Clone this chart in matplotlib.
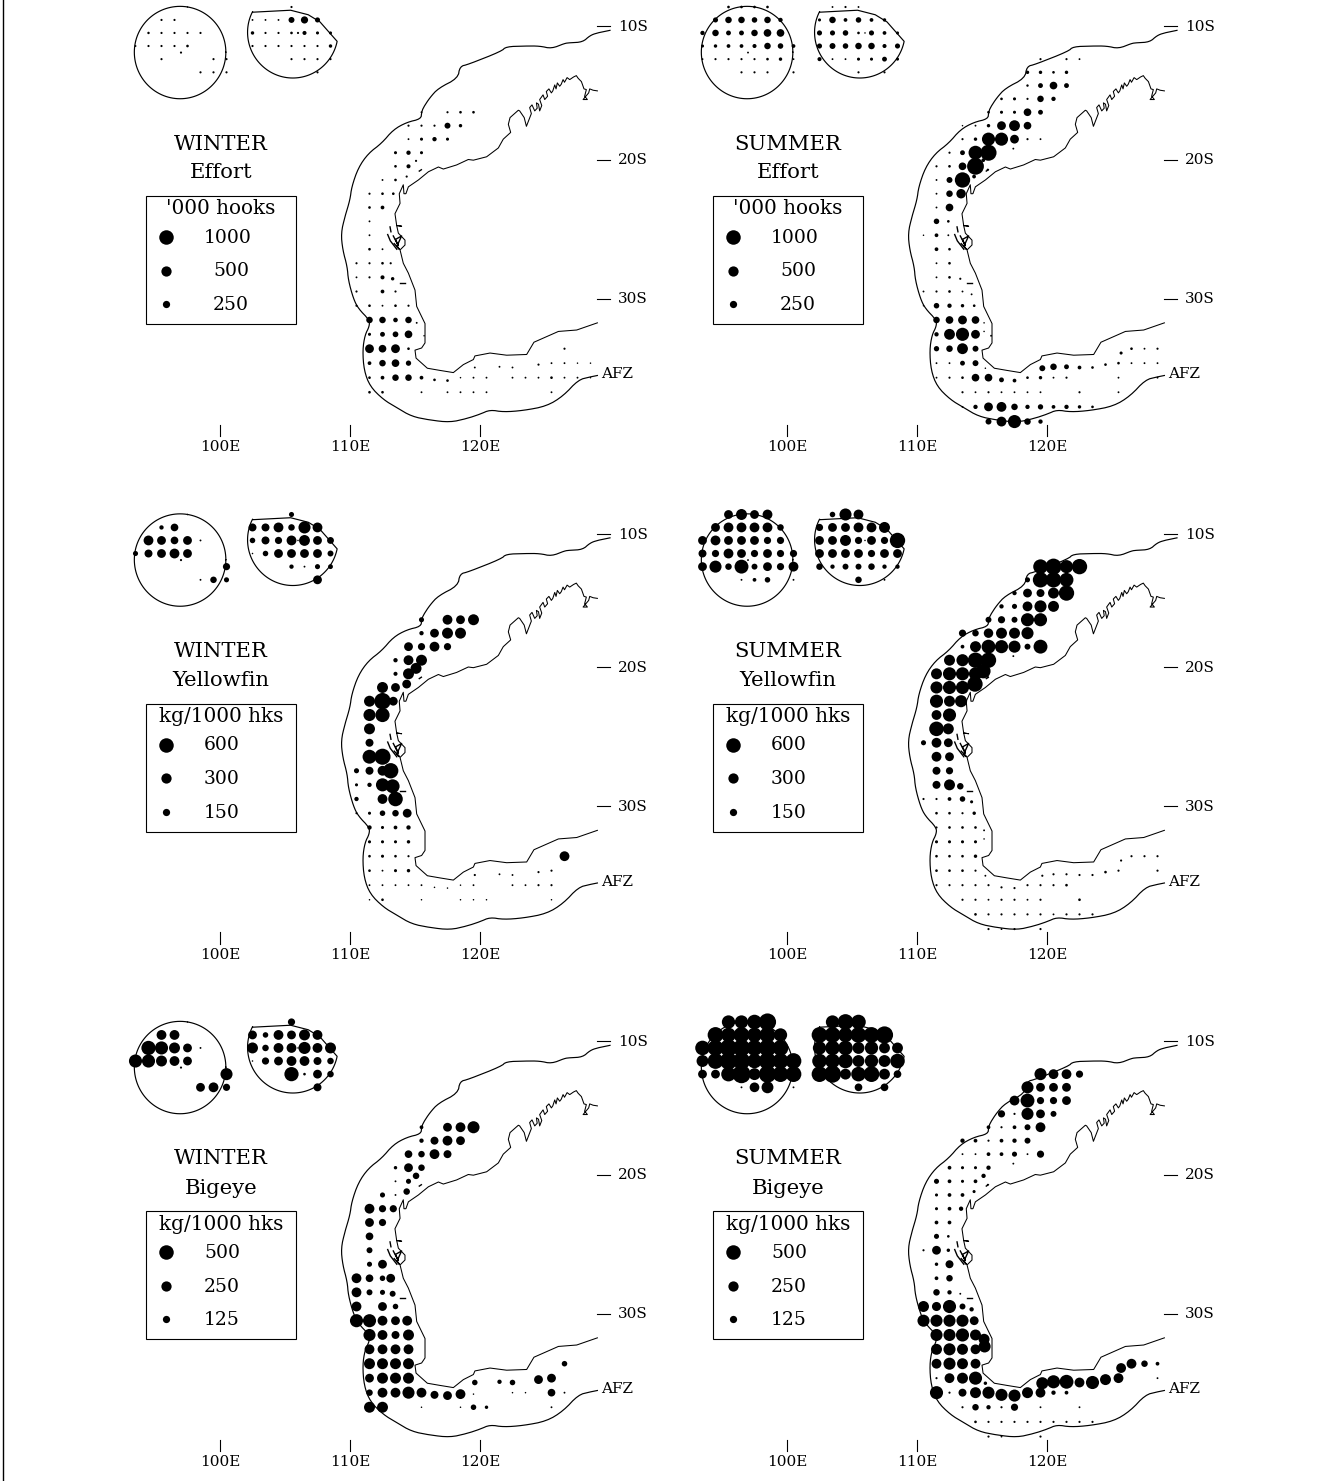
import numpy as np
import matplotlib
matplotlib.use("Agg")
import matplotlib.pyplot as plt
from matplotlib.patches import Rectangle

plt.rcParams['font.family'] = 'DejaVu Serif'

# rows: (lat S, first lon E, [cell values, % of top legend key, 0 = no cell])
winter_effort = [
    (8.5, 97.5, [1]), (9.5, 95.5, [2, 2]), (10.5, 94.5, [2.5, 2, 2, 2, 2]),
    (11.5, 93.5, [1.5, 2, 2, 2, 3]), (12.0, 97.0, [2]), (12.5, 95.5, [2]),
    (12.5, 99.5, [2, 2]), (13.5, 98.5, [2, 2, 2]),
    (8.5, 105.5, [2]), (9.5, 102.5, [1.5, 1.5, 1.5, 15, 22, 11]),
    (10.5, 102.5, [5, 2, 2, 3]), (10.5, 106.0, [2]), (10.5, 106.5, [7, 4, 4]),
    (11.5, 102.5, [2, 2, 2, 2, 2, 2, 5]), (12.5, 105.5, [2, 2, 2, 2]), (13.5, 107.5, [2]),
    (16.5, 115.5, [1.5, 0, 2, 3, 3]), (17.5, 114.5, [2, 2, 2, 15, 5]),
    (18.5, 114.5, [1.5, 4, 8, 4]), (19.5, 113.5, [4, 8, 4]), (20.5, 113.5, [3, 7]),
    (20.1, 115.08, [2]), (21.5, 112.5, [1.5, 3]), (21.25, 114.36, [2]),
    (22.5, 111.5, [2, 3]), (22.5, 113.33, [3]), (23.5, 111.5, [3, 6]),
    (24.5, 111.5, [1.5]), (25.5, 111.5, [1.5]), (26.5, 111.5, [3, 1.5]),
    (27.5, 110.5, [2, 2, 3]), (27.5, 113.13, [2]), (28.5, 110.5, [1.5, 2, 7]),
    (28.6, 113.28, [5]), (29.5, 110.5, [2, 0, 6, 2]),
    (30.5, 110.5, [2, 3, 1.5, 3, 2]), (31.5, 111.5, [18, 18, 9, 18]), (31.7, 115.13, [1.5]),
    (32.5, 111.5, [4, 10, 14, 25]), (32.6, 115.7, [1]), (33.5, 111.5, [33, 25, 33, 3]),
    (33.5, 126.5, [2]), (34.5, 111.5, [6, 18, 25, 12]), (34.8, 119.6, [1.5]),
    (34.75, 121.5, [1.5]), (34.8, 122.5, [1.5]), (34.6, 124.5, [2]),
    (34.5, 125.5, [1.5, 1.5, 1, 1]),
    (35.5, 111.5, [3, 6, 18, 18, 6]), (35.65, 116.5, [3]), (35.7, 117.5, [3]),
    (35.5, 118.5, [1, 1.5, 1.5, 0, 1.5, 1.5, 1.5, 3, 1.5, 1.5, 1]),
    (36.5, 111.5, [3, 3, 0, 0, 1.5, 0, 1.5, 1.5, 1.5, 1.5]), (36.5, 125.5, [1.5]),
]

summer_effort = [
    (8.5, 95.5, [3, 3, 3, 3]), (9.5, 94.5, [11, 18, 18, 13, 18, 8]),
    (10.5, 93.5, [8, 18, 10, 10, 18, 25, 25]), (11.5, 93.5, [4, 5, 6, 6, 7, 18, 13, 6]),
    (12.0, 97.0, [1.5]), (12.5, 93.5, [1.5, 2, 2, 2, 2, 3, 5, 1.5]),
    (13.5, 96.5, [2, 2, 2, 0, 2]),
    (8.5, 103.5, [1.5, 2, 1.5]), (9.5, 102.5, [4, 18, 6, 13, 6, 5]),
    (10.5, 102.5, [11, 11, 13, 3]), (10.5, 106.0, [1]), (10.5, 106.5, [11, 6, 4]),
    (11.5, 102.5, [11, 15, 13, 18, 18, 7, 11]), (12.5, 102.5, [7, 1.5, 1.5, 4, 4, 10, 4]),
    (13.5, 105.5, [2, 0, 2]),
    (12.5, 119.5, [2, 0, 2, 1.5]), (13.5, 118.5, [5, 5, 3, 5]),
    (14.5, 118.5, [2.5, 10, 25, 10]), (15.5, 116.5, [3, 4, 2, 18, 8]),
    (16.5, 115.5, [3, 4, 4, 25, 10]), (17.5, 113.5, [1, 1.5, 5, 33, 50, 25]),
    (18.5, 113.5, [2, 5, 73, 73, 33, 2, 1.5]), (19.2, 117.41, [1.5]),
    (19.5, 112.5, [2, 10, 82, 110]), (20.05, 115.1, [6]), (20.5, 111.5, [2, 3, 25, 120]),
    (20.75, 115.44, [2]), (21.5, 111.5, [1.5, 15, 100]), (21.25, 114.39, [6]),
    (22.5, 111.5, [1.5, 18]), (22.5, 113.39, [38]), (23.5, 111.5, [1.5, 25]),
    (24.5, 111.5, [13]), (24.5, 112.41, [3]), (25.5, 110.5, [1, 6]), (25.5, 112.41, [1.5]),
    (26.5, 111.5, [6, 3]), (27.5, 111.5, [1.5, 3]), (28.5, 111.5, [1.5, 3]),
    (28.6, 113.33, [2]), (29.5, 110.5, [1.5, 2, 3, 1.5]), (29.7, 114.2, [1.5]),
    (30.5, 110.5, [1, 13, 8, 5]), (30.5, 114.4, [3]), (31.5, 111.5, [18, 25, 33, 25]),
    (31.7, 115.16, [1]), (32.5, 111.5, [8, 50, 73, 33]), (32.3, 115.16, [1]),
    (32.6, 115.7, [1.5]), (33.5, 111.5, [12, 18, 50, 15]), (33.8, 125.7, [4]),
    (33.5, 126.5, [3, 1.5, 2]), (34.5, 111.5, [1.5, 1.5, 10, 15]), (34.85, 115.26, [1]),
    (34.85, 119.64, [15]), (34.75, 120.5, [18, 10]), (34.8, 122.5, [6, 3]), (34.6, 124.5, [3]),
    (34.5, 125.5, [3, 1.5, 1.5, 1.5]),
    (35.5, 111.5, [1.5, 2, 3, 25, 25]), (35.65, 116.5, [10]), (35.7, 117.5, [6]),
    (35.5, 118.5, [3, 5, 1.5, 2]), (35.5, 125.5, [1.5, 0, 0, 1.5]),
    (36.5, 113.5, [2, 1.5, 2, 1.5, 1.5, 1.5, 1.5, 0, 0, 2, 0, 0, 1.5]),
    (37.5, 113.5, [1.5, 8, 33, 41, 18, 8, 12, 6, 8, 5, 3]),
    (38.5, 115.5, [15, 41, 73, 18, 8]),
]

winter_yellowfin = [
    (8.5, 97.5, [1]), (9.5, 95.5, [8, 25]), (10.5, 94.5, [41, 33, 25, 33, 1.5]),
    (11.5, 93.5, [11, 27, 33, 41, 33]), (12.0, 97.0, [2]), (12.5, 100.5, [22]),
    (13.5, 98.5, [1.5, 18, 11]),
    (8.5, 105.5, [11]), (9.5, 102.5, [27, 27, 41, 18, 62, 41]),
    (10.5, 102.5, [13, 27, 22, 41]), (10.5, 106.0, [1]), (10.5, 106.5, [50, 33, 20]),
    (11.5, 102.5, [1, 13, 33, 33, 33, 33, 15]), (12.5, 105.5, [8, 1.5, 11, 10]), (13.5, 107.5, [33]),
    (16.5, 115.5, [11, 0, 41, 33, 51]), (17.5, 115.5, [8, 33, 51, 51]),
    (18.5, 114.5, [33, 22, 41, 22]), (19.5, 113.5, [8, 41, 51]), (20.5, 113.5, [7, 51]),
    (20.1, 115.08, [51]), (21.5, 112.5, [51, 33]), (21.25, 114.36, [33]),
    (22.5, 111.5, [51, 115]), (22.5, 113.33, [33]), (23.5, 111.5, [62, 86]),
    (24.5, 111.5, [51]), (25.5, 111.5, [27]), (26.5, 111.5, [82, 110]),
    (27.5, 110.5, [11, 27, 41]), (27.5, 113.13, [100]), (28.5, 110.5, [4, 8, 73]),
    (28.6, 113.28, [82]), (29.5, 110.5, [8, 0, 41, 90]), (30.5, 110.5, [2, 4, 13, 18]),
    (30.5, 114.4, [33]), (31.5, 111.5, [8, 4, 6, 8]), (32.5, 111.5, [4, 4, 4, 5]),
    (33.5, 111.5, [3, 4, 3, 2]), (33.5, 126.5, [41]), (34.5, 111.5, [3, 1.5, 4, 5]),
    (34.8, 119.6, [2]), (34.75, 121.5, [1.5]), (34.8, 122.5, [1.5]), (34.6, 124.5, [2]),
    (34.5, 125.5, [2]),
    (35.5, 111.5, [1.5, 1.5, 1.5, 1.5, 1.5]), (35.65, 116.5, [1]), (35.7, 117.5, [1]),
    (35.5, 118.5, [1, 1.5, 0, 0, 1.5, 1.5, 2, 2]),
    (36.5, 111.5, [1, 3, 0, 0, 1, 0, 0, 1, 1, 1]), (36.5, 125.5, [1]),
]

summer_yellowfin = [
    (8.5, 95.5, [33, 51, 33, 41]), (9.5, 94.5, [33, 41, 41, 41, 41, 18]),
    (10.5, 93.5, [33, 41, 33, 33, 33, 22, 22]), (11.5, 93.5, [27, 22, 41, 33, 22, 33, 22, 22]),
    (12.0, 97.0, [1.5]), (12.5, 93.5, [33, 62, 18, 82, 15, 33, 22, 41]),
    (13.5, 96.5, [1.5, 6, 13, 0, 1.5]),
    (8.5, 103.5, [13, 62, 41]), (9.5, 102.5, [22, 33, 33, 41, 41, 51]),
    (10.5, 102.5, [33, 33, 51, 22]), (10.5, 106.0, [1]), (10.5, 106.5, [33, 22, 100]),
    (11.5, 102.5, [33, 33, 33, 33, 22, 33, 33]), (12.5, 102.5, [18, 8, 15, 15, 18, 8, 8]),
    (13.5, 105.5, [18, 0, 1.5]),
    (12.5, 119.5, [90, 110, 73, 100]), (13.5, 118.5, [11, 100, 100, 82]),
    (14.5, 117.5, [8, 33, 27, 51, 100]), (15.5, 116.5, [8, 11, 41, 62, 51]),
    (16.5, 115.5, [15, 22, 15, 73, 73]), (17.5, 113.5, [22, 18, 38, 51, 51, 62]),
    (18.5, 113.5, [6, 51, 82, 73, 62, 15, 82]), (19.2, 117.41, [1.5]),
    (19.5, 112.5, [51, 62, 100, 100]), (20.5, 111.5, [51, 73, 73, 73]), (20.3, 115.1, [90]),
    (20.75, 115.44, [2]), (21.5, 111.5, [62, 73, 73]), (21.25, 114.46, [100]),
    (22.5, 111.5, [73, 51]), (22.5, 113.39, [62]), (23.5, 111.5, [41, 73]),
    (24.5, 111.5, [90]), (24.5, 112.41, [51]), (25.5, 110.5, [11, 41]), (25.5, 112.41, [33]),
    (26.5, 111.5, [41, 33]), (27.5, 111.5, [27, 22]), (28.5, 111.5, [27, 51]),
    (28.6, 113.33, [18]), (29.5, 110.5, [2, 2, 6, 13]), (29.7, 114.2, [4]),
    (30.5, 111.5, [3, 3, 2]), (30.5, 114.4, [5]), (31.5, 111.5, [2, 3, 3, 3]),
    (31.7, 115.16, [1.5]), (32.5, 111.5, [4, 4, 4, 4]), (32.3, 115.16, [1]),
    (33.5, 111.5, [3, 3, 3, 5]), (33.8, 125.7, [2]), (33.5, 126.5, [2, 2, 2]),
    (34.5, 111.5, [3, 3, 3, 2]), (34.85, 115.26, [1.5]), (34.85, 119.64, [2]),
    (34.75, 120.5, [2, 2]), (34.8, 122.5, [2, 2]), (34.6, 124.5, [3]),
    (34.5, 125.5, [2, 0, 0, 2]),
    (35.5, 111.5, [2, 2, 2, 2, 2]), (35.65, 116.5, [2]), (35.7, 117.5, [2]),
    (35.5, 118.5, [2, 2, 2, 3]), (36.5, 113.5, [2, 2, 1.5, 2, 2, 1.5, 2, 0, 0, 3]),
    (37.5, 114.5, [3, 2, 2, 2, 2, 2, 1.5, 2, 2, 2]), (38.5, 115.5, [2, 1.5, 2, 0, 2]),
]

winter_bigeye = [
    (8.5, 97.5, [1]), (9.5, 95.5, [41, 41]), (10.5, 94.5, [86, 73, 51, 33, 1.5]),
    (11.5, 93.5, [73, 73, 51, 41, 33]), (12.0, 97.0, [2]), (12.5, 100.5, [62]),
    (13.5, 98.5, [33, 41, 22]),
    (8.5, 105.5, [22]), (9.5, 102.5, [33, 13, 41, 33, 51, 41]),
    (10.5, 102.5, [51, 18, 41, 41]), (10.5, 106.0, [1]), (10.5, 106.5, [62, 41, 51]),
    (11.5, 102.5, [1, 22, 33, 41, 41, 27, 18]), (12.5, 105.5, [86, 3, 33, 18]), (13.5, 107.5, [27]),
    (16.5, 115.5, [6, 0, 33, 41, 62]), (17.5, 115.5, [8, 27, 41, 33]),
    (18.5, 114.5, [25, 18, 41, 27]), (19.5, 113.5, [5, 33, 18]), (20.5, 113.5, [1.5, 11]),
    (20.1, 115.08, [18]), (21.5, 112.5, [11, 1.5]), (21.25, 114.36, [18]),
    (22.5, 111.5, [41, 22]), (22.5, 113.33, [22]), (23.5, 111.5, [33, 22]),
    (24.5, 111.5, [25]), (25.5, 111.5, [15]), (26.5, 111.5, [11, 33]),
    (27.5, 110.5, [41, 25, 13]), (27.5, 113.13, [33]), (28.5, 110.5, [41, 15, 11]),
    (28.6, 113.28, [15]), (29.5, 110.5, [41, 0, 33, 13]), (30.5, 110.5, [73, 73, 41, 33]),
    (30.5, 114.4, [41]), (31.5, 111.5, [62, 41, 27, 51]), (32.5, 111.5, [41, 41, 41, 41]),
    (33.5, 111.5, [51, 51, 51, 51]), (33.5, 126.5, [13]), (34.5, 111.5, [33, 51, 51, 51]),
    (34.8, 119.6, [13]), (34.75, 121.5, [8]), (34.8, 122.5, [13]), (34.6, 124.5, [33]),
    (34.5, 125.5, [33]),
    (35.5, 111.5, [18, 41, 41, 62, 41]), (35.65, 116.5, [27]), (35.7, 117.5, [33]),
    (35.6, 118.5, [41, 1]), (35.5, 122.5, [1, 1, 0, 25, 1.5]),
    (36.5, 111.5, [51, 51, 0, 0, 1, 0, 0, 1, 13, 5]), (36.5, 125.5, [1.5]),
]

summer_bigeye = [
    (8.5, 95.5, [75, 75, 90, 125]), (9.5, 94.5, [105, 90, 105, 90, 105, 75]),
    (10.5, 93.5, [90, 105, 125, 125, 105, 125, 105]), (11.5, 93.5, [60, 105, 125, 125, 90, 125, 105, 105]),
    (12.5, 93.5, [33, 33, 90, 140, 60, 125, 105, 105]), (13.5, 96.5, [1.5, 40, 60, 0, 1.5]),
    (8.5, 103.5, [75, 105, 90]), (9.5, 102.5, [105, 105, 90, 105, 105, 125]),
    (10.5, 102.5, [75, 90, 90, 60, 75, 50, 50]), (11.5, 102.5, [90, 90, 90, 60, 75, 60, 90]),
    (12.5, 102.5, [105, 125, 50, 90, 105, 50, 25]), (13.5, 105.5, [25, 0, 25]),
    (12.5, 119.5, [62, 41, 41, 22]), (13.5, 118.5, [62, 33, 33, 33]),
    (14.5, 117.5, [41, 82, 22, 22, 33]), (15.5, 116.5, [22, 2, 62, 33, 15]),
    (16.5, 115.5, [6, 2, 6, 15, 41]), (17.5, 113.5, [8, 6, 2, 6, 8, 15]),
    (18.5, 113.5, [1.5, 1.5, 6, 6, 11, 1.5, 22]), (19.2, 117.41, [1.5]),
    (19.5, 112.5, [6, 4, 4, 8]), (20.5, 111.5, [11, 6, 4, 6]), (20.1, 115.12, [8]),
    (20.75, 115.44, [1.5]), (21.5, 111.5, [4, 6, 6]), (21.25, 114.39, [4]),
    (22.5, 111.5, [4, 6]), (22.5, 113.39, [8]), (23.5, 111.5, [6, 6]),
    (24.5, 111.5, [11]), (24.5, 112.41, [3]), (25.5, 110.5, [2, 33]), (25.5, 112.41, [5]),
    (26.5, 111.5, [5, 27]), (27.5, 111.5, [6, 18]), (28.5, 111.5, [18, 8]),
    (28.6, 113.33, [1.5]), (29.5, 110.5, [51, 35, 73, 15]), (29.7, 114.2, [8]),
    (30.5, 110.5, [62, 62, 62, 62]), (30.5, 114.4, [33]), (31.5, 111.5, [62, 62, 73, 51]),
    (31.8, 115.16, [51]), (32.5, 111.5, [51, 62, 51, 41]), (32.3, 115.2, [62]),
    (33.5, 111.5, [41, 62, 51, 41]), (33.8, 125.7, [41]), (33.5, 126.5, [41, 18, 6]),
    (34.5, 111.5, [2, 41, 51, 73]), (34.85, 115.26, [5]), (34.85, 119.64, [62]),
    (34.75, 120.5, [73, 82]), (34.8, 122.5, [41, 73]), (34.6, 124.5, [51]),
    (34.5, 125.5, [41, 0, 0, 1.5]),
    (35.5, 111.5, [73, 2, 27, 51, 62]), (35.65, 116.5, [62]), (35.7, 117.5, [62]),
    (35.5, 118.5, [51, 41, 8, 6]), (36.5, 113.5, [2, 18, 8, 2, 22, 0, 1.5, 0, 0, 1.5]),
    (37.5, 114.5, [3, 2, 2, 2, 2, 2, 2, 2, 2, 2]), (38.5, 115.5, [2, 1.5, 0, 0, 2]),
]

# AFZ outer boundary, north-east end round to the south-east end
afz_lon = [130.0, 129.0, 128.46, 127.9, 126.9, 126.5, 125.5, 124.6, 123.45, 122.0, 121.65,
           119.1, 118.45, 118.3, 116.8, 116.15, 115.64, 115.51, 115.46, 114.36, 113.33,
           112.44, 111.41, 110.64, 110.13, 110.0, 109.61, 109.31, 109.44, 109.79, 109.87,
           110.26, 110.64, 111.49, 111.49, 111.15, 110.97, 111.08, 111.54, 112.56, 113.59,
           114.74, 116.15, 117.69, 118.97, 120.0, 120.77, 121.8, 123.33, 125.13, 126.41,
           127.56, 128.46, 129.03]
afz_lat = [10.3, 10.5, 10.7, 11.2, 11.25, 11.3, 11.7, 11.5, 11.5, 11.55, 11.9,
           12.9, 13.05, 13.95, 14.7, 15.4, 16.15, 16.5, 17.0, 17.25, 17.8,
           18.8, 19.55, 20.6, 22.0, 22.95, 24.15, 25.35, 26.55, 27.75, 28.7,
           30.0, 30.7, 31.5, 31.95, 32.55, 33.6, 35.0, 36.1, 37.0, 37.55,
           38.15, 38.4, 38.55, 38.3, 38.0, 37.7, 37.85, 37.75, 37.45, 36.75,
           35.65, 35.45, 35.35]

coast_lon = [129.03, 128.7, 128.44, 128.36, 128.1, 127.93, 128.26, 128.05, 128.18, 128.0,
             127.8, 127.55, 127.41, 127.2, 126.9, 126.7, 126.5, 126.39, 126.25, 126.13,
             125.95, 125.85, 125.75, 125.6, 125.49, 125.3, 125.1, 125.2, 124.98, 124.85,
             124.59, 124.75, 124.59, 124.5, 124.34, 124.4, 124.21, 124.0, 123.82, 123.95,
             123.57, 123.4, 123.05, 122.95, 122.31, 122.18, 122.36, 121.79, 121.41, 120.51,
             119.49, 119.1, 118.2, 117.18, 116.8, 116.03, 115.26, 114.49, 114.3, 114.15,
             114.1, 113.79, 113.85, 113.46, 113.59, 113.97, 113.59, 113.72, 114.23, 114.23,
             113.85, 114.1, 114.49, 115.0, 115.13, 115.77, 115.77, 115.51, 115.0, 115.08,
             115.95, 116.92, 117.95, 118.72, 119.49, 119.61, 120.77, 122.05, 123.59, 124.15,
             126.03, 127.44, 129.03]
coast_lat = [14.9, 14.85, 14.75, 15.05, 15.35, 15.55, 15.55, 15.3, 14.8, 14.75,
             14.2, 13.95, 13.75, 13.85, 14.05, 13.9, 14.25, 14.05, 14.4, 14.55,
             14.3, 14.75, 14.45, 14.9, 15.05, 14.75, 14.95, 15.3, 15.55, 15.2,
             15.55, 16.0, 16.4, 15.9, 15.8, 16.2, 16.4, 15.95, 16.15, 16.6,
             17.55, 16.9, 16.4, 16.35, 16.9, 17.4, 18.0, 18.5, 19.15, 19.8,
             20.05, 20.0, 20.4, 20.7, 20.55, 20.9, 21.5, 22.0, 22.5, 22.5,
             21.85, 22.5, 23.2, 23.95, 24.8, 24.85, 24.8, 25.35, 25.85, 26.2,
             26.55, 27.5, 28.2, 29.4, 30.55, 31.75, 33.1, 33.45, 33.6, 34.15,
             34.85, 35.0, 35.15, 34.6, 34.25, 34.0, 33.8, 33.95, 33.9, 33.05,
             32.3, 32.2, 31.7]
# islands and short coastal bits
island_lons = [[113.08, 113.15], [112.9, 113.1, 113.6],
               [113.33, 113.72, 113.5, 113.97, 113.6, 113.8, 113.4],
               [113.85, 114.23], [115.33, 115.49]]
island_lats = [[24.9, 25.25], [25.45, 25.9, 26.5],
               [25.55, 26.25, 25.8, 25.55, 26.3, 26.5, 26.1],
               [28.9, 28.9], [20.85, 20.75]]

# Cocos and Christmas Island zones: centre lon, centre lat, radius in degrees
cocos_zone = (96.93, 11.97, 3.52)
christmas_zone = (105.6, 10.45, 3.48)
christmas_north_lon = [102.56, 105.43, 106.79, 107.69]
christmas_north_lat = [8.9, 8.75, 9.1, 9.65]

lat_ticks = [10, 20, 30]
lat_labels = ['10S', '20S', '30S']
lon_ticks = [100, 110, 120]
lon_labels = ['100E', '110E', '120E']

seasons = ['WINTER', 'SUMMER']
species = ['Effort', 'Yellowfin', 'Bigeye']
units = ["'000 hooks", 'kg/1000 hks', 'kg/1000 hks']
key_labels = [['1000', '500', '250'], ['600', '300', '150'], ['500', '250', '125']]
key_sizes = [100, 50, 25]
panel_rows = [[winter_effort, summer_effort],
              [winter_yellowfin, summer_yellowfin],
              [winter_bigeye, summer_bigeye]]

W, H = 1339, 1481
COL_DX = 567
ROW_DY = 507.5
DOT_TOP = 14.5  # px across for the top legend key
TICK_FS = 11


def lat_to_sheet(lat):
    t = np.asarray(lat, dtype=float) - 8.5
    return 7 + 12.914 * t + 0.03017 * t ** 2


def sheet_to_lat(y):
    y = np.asarray(y, dtype=float)
    root = np.sqrt(np.maximum(12.914 ** 2 + 4 * 0.03017 * (y - 7), 0))
    return 8.5 + (root - 12.914) / (2 * 0.03017)


def dot_area(p):
    d_px = DOT_TOP * np.sqrt(np.asarray(p, dtype=float) / 100)
    return (d_px * 72 / 100) ** 2


def rounded(xs, ys, passes=2):
    # corner cutting, the boundary is a smooth curve in the original
    pts = np.column_stack([xs, ys])
    for _ in range(passes):
        a = 0.75 * pts[:-1] + 0.25 * pts[1:]
        b = 0.25 * pts[:-1] + 0.75 * pts[1:]
        mid = np.empty((a.shape[0] * 2, 2))
        mid[0::2] = a
        mid[1::2] = b
        pts = np.vstack([pts[:1], mid, pts[-1:]])
    return pts[:, 0], pts[:, 1]


def draw_map(ax, rows):
    ax.plot(*rounded(afz_lon, afz_lat), color='k', lw=0.85, clip_on=False)
    ax.plot(coast_lon, coast_lat, color='k', lw=0.75, clip_on=False)
    for lo, la in zip(island_lons, island_lats):
        ax.plot(lo, la, color='k', lw=1.0, clip_on=False)

    ang = np.radians(np.linspace(0, 360, 121))
    ax.plot(cocos_zone[0] + cocos_zone[2] * np.cos(ang),
            cocos_zone[1] + cocos_zone[2] * np.sin(ang), color='k', lw=0.85, clip_on=False)
    ang = np.radians(np.linspace(11.5, 207, 80))
    lo = christmas_zone[0] + christmas_zone[2] * np.cos(ang)
    la = christmas_zone[1] + christmas_zone[2] * np.sin(ang)
    ax.plot(np.r_[christmas_north_lon, lo], np.r_[christmas_north_lat, la],
            color='k', lw=0.85, clip_on=False)

    lons, lats, vals = [], [], []
    for lat, lon0, values in rows:
        for i, v in enumerate(values):
            if v > 0:
                lons.append(lon0 + i)
                lats.append(lat)
                vals.append(v)
    ax.scatter(lons, lats, s=dot_area(vals) * 1.12, c='k', linewidths=0, clip_on=False, zorder=3)

    for la, lab in zip(lat_ticks, lat_labels):
        ax.plot([129, 130], [la, la], color='k', lw=0.8, clip_on=False)
        ax.text(130.6, la + 0.05, lab, fontsize=TICK_FS, ha='left', va='center')
    for lo, lab in zip(lon_ticks, lon_labels):
        ax.plot([lo, lo], [38.7, 39.5], color='k', lw=0.8, clip_on=False)
        ax.text(lo, 40.25, lab, fontsize=TICK_FS, ha='center', va='center')
    ax.text(129.3, 35.25, 'AFZ', fontsize=TICK_FS, ha='left', va='center')


fig = plt.figure(figsize=(W / 100, H / 100), dpi=100, facecolor='white')

sheet = fig.add_axes([0, 0, 1, 1])
sheet.set_xlim(0, W)
sheet.set_ylim(H, 0)
sheet.axis('off')
sheet.plot([3, 3], [0, H], color='k', lw=1.0)

lat_top, lat_bot = 8.0, 41.0
for r in range(3):
    for c in range(2):
        dx = c * COL_DX
        dy = r * ROW_DY
        y0 = float(lat_to_sheet(lat_top)) + dy
        y1 = float(lat_to_sheet(lat_bot)) + dy
        x0, x1 = 120 + dx, 650 + dx
        ax = fig.add_axes([x0 / W, 1 - y1 / H, (x1 - x0) / W, (y1 - y0) / H])
        ax.set_yscale('function', functions=(lat_to_sheet, sheet_to_lat))
        ax.set_xlim(100 + (120 - 220) / 13, 100 + (650 - 220) / 13)
        ax.set_ylim(lat_bot, lat_top)
        ax.axis('off')
        draw_map(ax, panel_rows[r][c])

        # title and key, placed on the sheet
        sheet.text(221 + dx, 144 + dy, seasons[c], fontsize=15.2, ha='center', va='center')
        sheet.text(221 + dx, 173 + dy, species[r], fontsize=15.2, ha='center', va='center')
        sheet.add_patch(Rectangle((146 + dx, 196 + dy), 150, 128, fill=False, ec='k', lw=0.8))
        sheet.text(221 + dx, 209 + dy, units[r], fontsize=14.4, ha='center', va='center')
        for k, (lab, p) in enumerate(zip(key_labels[r], key_sizes)):
            ky = 237 + 33.5 * k + dy
            sheet.scatter([166 + dx], [ky], s=dot_area(p), c='k', linewidths=0)
            left = 213 if (r == 0 and k > 0) else 204
            sheet.text(left + dx, ky + 1, lab, fontsize=13.5, ha='left', va='center')

fig.savefig('out.png', dpi=100, facecolor='white')
